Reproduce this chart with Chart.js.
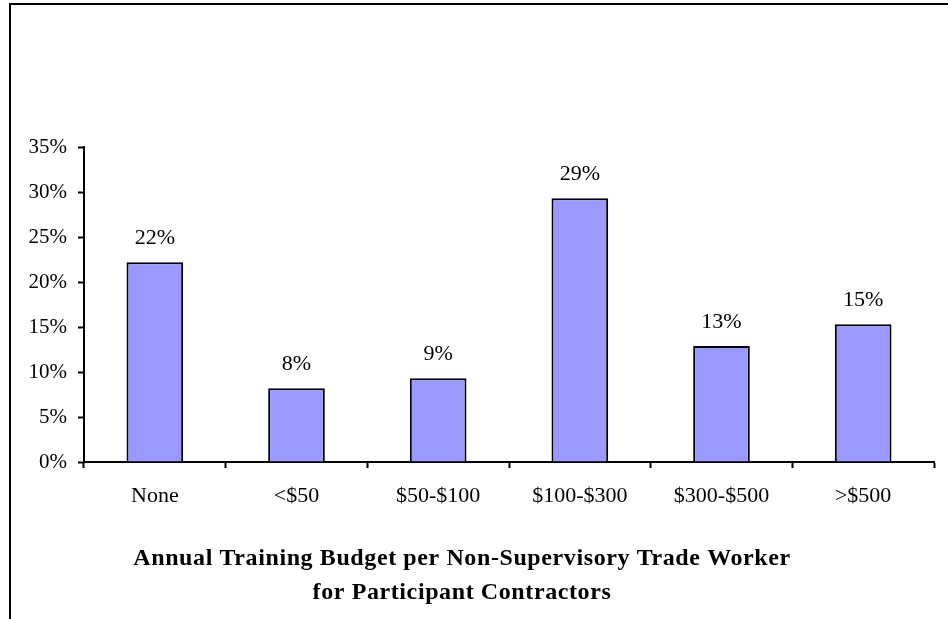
<!DOCTYPE html>
<html>
<head>
<meta charset="utf-8">
<title>Annual Training Budget</title>
<script src="https://cdn.jsdelivr.net/npm/chart.js@4.4.1/dist/chart.umd.min.js"></script>
<style>
    html, body { margin: 0; padding: 0; background: #fff; }
    #wrap { width: 948px; height: 619px; position: relative; }
</style>
</head>
<body>
<div id="wrap"><canvas id="myChart" width="948" height="619"></canvas></div>
<script>
// data
var categories = ['None', '<$50', '$50-$100', '$100-$300', '$300-$500', '>$500'];
var shares = [22.2, 8.2, 9.3, 29.3, 12.9, 15.3];
var titleLines = ['Annual Training Budget per Non-Supervisory Trade Worker', 'for Participant Contractors'];

var BudgetChart = function () {

    //********************************************************************************//
    //                            Global variables
    //********************************************************************************//
    var $chart = document.getElementById('myChart');
    var chart;
    var serif = "'Liberation Serif', 'Times New Roman', serif";

    const data = {
        labels: categories,
        datasets: [{
            label: 'Share of contractors',
            data: shares,
            backgroundColor: '#9999ff',
            borderColor: '#000',
            borderWidth: 2,
            categoryPercentage: 1,
            barPercentage: 0.4
        }]
    };

    // outer frame (top and left edge only)
    const framePlugin = {
        id: 'frame',
        beforeDraw: function (c) {
            var ctx = c.ctx;
            ctx.save();
            ctx.strokeStyle = '#000';
            ctx.lineWidth = 2;
            ctx.beginPath();
            ctx.moveTo(10, 619);
            ctx.lineTo(10, 4);
            ctx.lineTo(948, 4);
            ctx.stroke();
            ctx.restore();
        }
    };

    // value labels above the bars
    const valueLabels = {
        id: 'valueLabels',
        afterDatasetsDraw: function (c) {
            var ctx = c.ctx;
            var meta = c.getDatasetMeta(0);
            ctx.save();
            ctx.font = '22px ' + serif;
            ctx.fillStyle = '#000';
            ctx.textAlign = 'center';
            ctx.textBaseline = 'middle';
            meta.data.forEach(function (bar, i) {
                ctx.fillText(Math.round(shares[i]) + '%', bar.x, bar.y - 24);
            });
            ctx.restore();
        }
    };

    // two line bold title under the axis
    const bottomTitle = {
        id: 'bottomTitle',
        afterDraw: function (c) {
            var ctx = c.ctx;
            ctx.save();
            ctx.font = 'bold 24px ' + serif;
            ctx.letterSpacing = '0.6px';
            ctx.fillStyle = '#000';
            ctx.textAlign = 'center';
            ctx.textBaseline = 'middle';
            titleLines.forEach(function (t, i) {
                ctx.fillText(t, 462, 559 + i * 34);
            });
            ctx.restore();
        }
    };

    const config = {
        type: 'bar',
        data: data,
        options: {
            responsive: false,
            animation: false,
            layout: { padding: { left: 0, right: 14, top: 147, bottom: 0 } },
            plugins: {
                legend: { display: false },
                tooltip: { enabled: false }
            },
            scales: {
                x: {
                    grid: { display: true, drawOnChartArea: false, offset: true, tickLength: 6, tickWidth: 2, tickColor: '#000' },
                    border: { display: true, color: '#000', width: 2 },
                    ticks: { color: '#000', padding: 15, font: { family: serif, size: 22 } },
                    afterFit: function (s) { s.height = 157; }
                },
                y: {
                    min: 0,
                    max: 35,
                    grid: { display: true, drawOnChartArea: false, tickLength: 6, tickWidth: 2, tickColor: '#000' },
                    border: { display: true, color: '#000', width: 2 },
                    ticks: {
                        stepSize: 5,
                        color: '#000',
                        padding: 11,
                        font: { family: serif, size: 21 },
                        callback: function (v) { return v + '%'; }
                    },
                    afterFit: function (s) { s.width = 84; }
                }
            }
        },
        plugins: [framePlugin, valueLabels, bottomTitle]
    };

    //********************************************************************************//
    //                            Initializations
    //********************************************************************************//
    var initChart = function () {
        chart = new Chart($chart, config);
    };

    return {
        init: function () {
            initChart();
        }
    };
}();

window.addEventListener('load', function () {
    BudgetChart.init();
});
</script>
</body>
</html>
